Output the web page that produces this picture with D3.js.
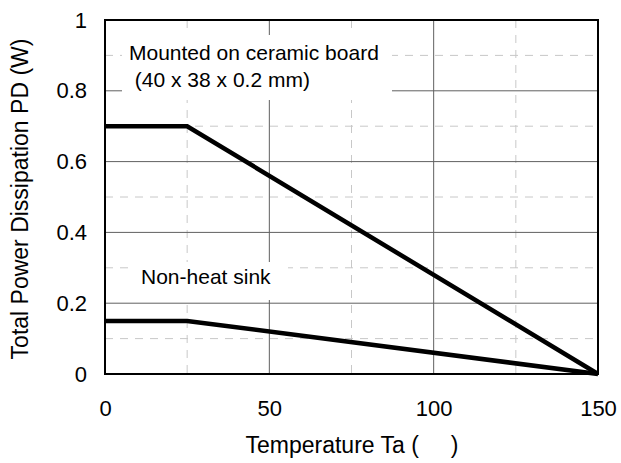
<!DOCTYPE html>
<html>
<head>
<meta charset="utf-8">
<script src="https://cdn.jsdelivr.net/npm/d3@7/dist/d3.min.js"></script>
<style>
html,body{margin:0;padding:0;background:#fff;}
svg{display:block;font-family:Arial,"Liberation Sans",sans-serif;}
</style>
</head>
<body>
<svg id="chart" width="621" height="463"></svg>
<script>
// ---- data ----
const xMajorTicks = [0, 50, 100, 150];
const xMinorTicks = [25, 75, 125];
const yMajorTicks = [0, 0.2, 0.4, 0.6, 0.8, 1];
const yMinorTicks = [0.1, 0.3, 0.5, 0.7, 0.9];
const ceramicTemp = [0, 25, 150];
const ceramicPower = [0.7, 0.7, 0];
const nonHeatTemp = [0, 25, 150];
const nonHeatPower = [0.15, 0.15, 0];
const xTitle = "Temperature Ta (\u00a0\u00a0\u00a0\u00a0\u00a0)";
const yTitle = "Total Power Dissipation PD (W)";
const ceramicLabel = ["Mounted on ceramic board", " (40 x 38 x 0.2 mm)"];
const nonHeatLabel = "Non-heat sink";

// ---- layout ----
const svg = d3.select("#chart");
const L = 105, R = 598, T = 20, B = 374;
const x = d3.scaleLinear().domain([0, 150]).range([L, R]);
const y = d3.scaleLinear().domain([0, 1]).range([B, T]);

// minor dashed grid
svg.append("g").selectAll("line").data(xMinorTicks).join("line")
  .attr("x1", d => x(d)).attr("x2", d => x(d)).attr("y1", T).attr("y2", B)
  .attr("stroke", "#c8c8c8").attr("stroke-width", 1).attr("stroke-dasharray", "8,7");
svg.append("g").selectAll("line").data(yMinorTicks).join("line")
  .attr("y1", d => y(d)).attr("y2", d => y(d)).attr("x1", L).attr("x2", R)
  .attr("stroke", "#c8c8c8").attr("stroke-width", 1).attr("stroke-dasharray", "8,7");
// major solid grid
svg.append("g").selectAll("line").data(xMajorTicks.slice(1, -1)).join("line")
  .attr("x1", d => x(d)).attr("x2", d => x(d)).attr("y1", T).attr("y2", B)
  .attr("stroke", "#606060").attr("stroke-width", 1);
svg.append("g").selectAll("line").data(yMajorTicks.slice(1, -1)).join("line")
  .attr("y1", d => y(d)).attr("y2", d => y(d)).attr("x1", L).attr("x2", R)
  .attr("stroke", "#606060").attr("stroke-width", 1);

// annotation boxes (white)
svg.append("rect").attr("x", 122).attr("y", 35).attr("width", 270).attr("height", 65).attr("fill", "#fff");
svg.append("rect").attr("x", 128).attr("y", 262).attr("width", 160).attr("height", 38).attr("fill", "#fff");

svg.append("text").attr("x", 129).attr("y", 60).attr("font-size", 21).attr("fill", "#000")
  .style("white-space", "pre").text(ceramicLabel[0]);
svg.append("text").attr("x", 129).attr("y", 87).attr("font-size", 21).attr("fill", "#000")
  .style("white-space", "pre").text(ceramicLabel[1]);
svg.append("text").attr("x", 141).attr("y", 284).attr("font-size", 21).attr("fill", "#000")
  .text(nonHeatLabel);

// frame
svg.append("rect").attr("x", L).attr("y", T).attr("width", R - L).attr("height", B - T)
  .attr("fill", "none").attr("stroke", "#000").attr("stroke-width", 2);

// data lines
const line = d3.line().x(d => x(d[0])).y(d => y(d[1]));
svg.append("path").datum(ceramicTemp.map((t, i) => [t, ceramicPower[i]]))
  .attr("d", line).attr("fill", "none").attr("stroke", "#000").attr("stroke-width", 4.5)
  .attr("stroke-linejoin", "miter");
svg.append("path").datum(nonHeatTemp.map((t, i) => [t, nonHeatPower[i]]))
  .attr("d", line).attr("fill", "none").attr("stroke", "#000").attr("stroke-width", 4.5)
  .attr("stroke-linejoin", "miter");

// axes tick labels
const xAxis = d3.axisBottom(x).tickValues(xMajorTicks).tickSize(0).tickPadding(26).tickFormat(d3.format("d"));
const gx = svg.append("g").attr("transform", `translate(0,${B})`).call(xAxis);
gx.select(".domain").remove();
gx.selectAll("text").attr("font-size", 22).attr("font-family", "Arial, 'Liberation Sans', sans-serif").attr("fill", "#000");

const yAxis = d3.axisLeft(y).tickValues(yMajorTicks).tickSize(0).tickPadding(18).tickFormat(d => d === 0 ? "0" : (d === 1 ? "1" : d3.format(".1f")(d)));
const gy = svg.append("g").attr("transform", `translate(${L},0)`).call(yAxis);
gy.select(".domain").remove();
gy.selectAll("text").attr("font-size", 22).attr("font-family", "Arial, 'Liberation Sans', sans-serif").attr("fill", "#000");

// titles
svg.append("text").attr("x", 352).attr("y", 453).attr("text-anchor", "middle")
  .attr("font-size", 23).attr("fill", "#000").text(xTitle);
svg.append("text").attr("transform", "translate(28,199) rotate(-90)").attr("text-anchor", "middle")
  .attr("font-size", 23).attr("fill", "#000").text(yTitle);
</script>
</body>
</html>
